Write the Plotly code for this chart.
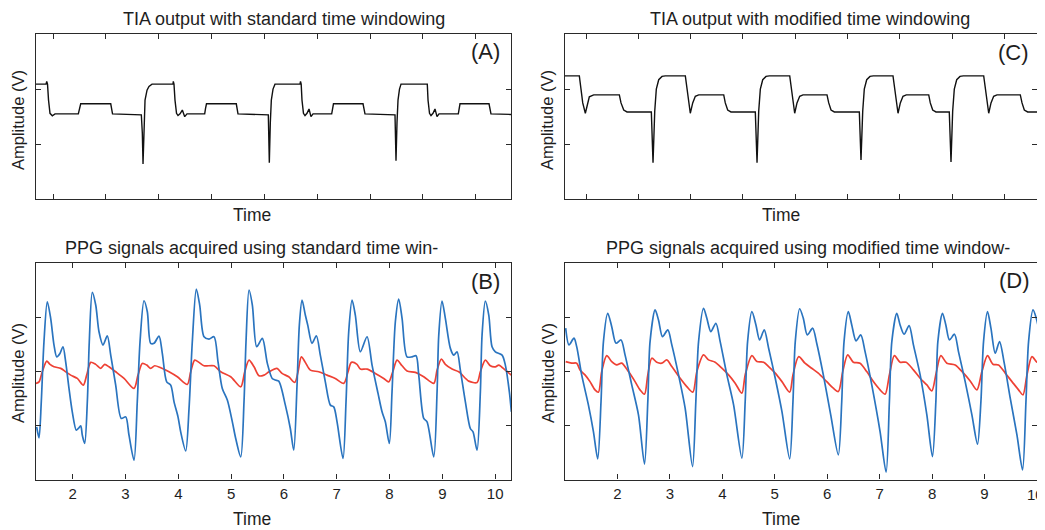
import plotly.graph_objects as go

# ---------------- data ----------------
# Panel A: TIA output, standard time windowing (time, amplitude)
A_t = [0.678, 0.868, 0.881, 0.896, 0.915, 0.943, 0.987, 1.038, 1.479, 1.501, 1.524, 2.092, 2.107, 2.126,
       2.671, 2.690, 2.703, 2.722, 2.741, 2.779, 2.816, 2.873, 3.271, 3.276, 3.289, 3.308, 3.337, 3.365,
       3.403, 3.447, 3.492, 3.535, 3.870, 3.886, 3.904, 4.468, 4.482, 4.500,
       5.074, 5.093, 5.112, 5.131, 5.163, 5.200, 5.674, 5.683, 5.696, 5.711, 5.739, 5.768, 5.806, 5.844,
       5.881, 5.920, 6.273, 6.289, 6.307, 6.866, 6.884, 6.903,
       7.471, 7.490, 7.509, 7.528, 7.556, 7.585, 8.082, 8.096, 8.124, 8.152, 8.190, 8.228, 8.266, 8.304,
       8.669, 8.682, 8.701, 9.250, 9.268, 9.287, 9.666]
A_v = [2.09, 2.09, 2.14, 2.09, 1.80, 1.56, 1.515, 1.55, 1.55, 1.65, 1.733, 1.733, 1.64, 1.551,
       1.533, 1.2, 0.642, 1.4, 1.8, 1.98, 2.05, 2.09, 2.09, 2.14, 2.09, 1.8, 1.56, 1.52,
       1.55, 1.62, 1.5, 1.55, 1.55, 1.65, 1.733, 1.733, 1.64, 1.551,
       1.533, 0.665, 1.4, 1.8, 2.0, 2.09, 2.09, 2.14, 2.09, 1.8, 1.56, 1.52, 1.56, 1.64,
       1.5, 1.55, 1.55, 1.65, 1.733, 1.733, 1.64, 1.551,
       1.533, 0.702, 1.4, 1.8, 2.0, 2.09, 2.09, 1.8, 1.56, 1.52, 1.56, 1.64, 1.5, 1.55,
       1.55, 1.65, 1.733, 1.733, 1.64, 1.551, 1.54]

# Panel C: TIA output, modified time windowing
C_t = [0.598, 0.872, 0.904, 0.937, 0.987, 1.019, 1.063, 1.147, 1.637, 1.669, 1.721, 1.784,
       2.249, 2.281, 2.314, 2.344, 2.390, 2.453, 2.516, 2.899, 2.931, 2.964, 2.994, 3.040, 3.090, 3.155,
       3.633, 3.663, 3.709, 3.772,
       4.237, 4.270, 4.302, 4.333, 4.379, 4.442, 4.505, 4.895, 4.925, 4.958, 4.990, 5.034, 5.086, 5.149,
       5.608, 5.641, 5.685, 5.748,
       6.226, 6.258, 6.291, 6.321, 6.367, 6.430, 6.493, 6.870, 6.902, 6.933, 6.966, 7.010, 7.061, 7.124,
       7.553, 7.583, 7.629, 7.692,
       7.946, 7.979, 8.011, 8.042, 8.088, 8.151, 8.214, 8.604, 8.635, 8.667, 8.700, 8.744, 8.795, 8.858,
       9.304, 9.337, 9.381, 9.445, 9.633]
C_v = [2.24, 2.24, 2.0, 1.75, 1.562, 1.7, 1.86, 1.895, 1.895, 1.75, 1.62, 1.585,
       1.585, 0.664, 1.6, 2.0, 2.17, 2.23, 2.24, 2.24, 2.0, 1.75, 1.562, 1.75, 1.87, 1.895,
       1.895, 1.75, 1.62, 1.585,
       1.585, 0.664, 1.6, 2.0, 2.17, 2.23, 2.24, 2.24, 2.0, 1.75, 1.562, 1.75, 1.87, 1.895,
       1.895, 1.75, 1.62, 1.585,
       1.585, 0.713, 1.6, 2.0, 2.17, 2.23, 2.24, 2.24, 2.0, 1.75, 1.562, 1.75, 1.87, 1.895,
       1.895, 1.75, 1.62, 1.585,
       1.585, 0.676, 1.6, 2.0, 2.17, 2.23, 2.24, 2.24, 2.0, 1.75, 1.562, 1.75, 1.87, 1.895,
       1.895, 1.75, 1.62, 1.585, 1.585]

# Panel B: PPG, standard time windowing
B_blue_t = [1.318, 1.362, 1.405, 1.456, 1.519, 1.583, 1.646, 1.697, 1.759, 1.816, 1.867, 1.930, 1.992, 2.068, 2.106, 2.152, 2.182, 2.227,
            2.277, 2.314, 2.371, 2.436, 2.498, 2.574, 2.655, 2.720, 2.814, 2.920, 3.004, 3.066, 3.161,
            3.223, 3.275, 3.350, 3.413, 3.477, 3.540, 3.634, 3.697, 3.780, 3.856, 3.919, 3.994, 4.045, 4.140,
            4.203, 4.265, 4.341, 4.405, 4.487, 4.581, 4.676, 4.752, 4.833, 4.928, 5.023, 5.087, 5.182,
            5.244, 5.282, 5.339, 5.402, 5.485, 5.591, 5.686, 5.778, 5.837, 5.902, 6.027, 6.121, 6.186,
            6.248, 6.292, 6.343, 6.405, 6.451, 6.532, 6.614, 6.689, 6.784, 6.879, 6.943, 7.006, 7.119,
            7.176, 7.227, 7.290, 7.352, 7.447, 7.574, 7.669, 7.782, 7.858, 7.920, 7.996,
            8.047, 8.110, 8.174, 8.237, 8.331, 8.426, 8.502, 8.553, 8.648, 8.710, 8.837,
            8.900, 8.932, 8.994, 9.057, 9.152, 9.216, 9.278, 9.341, 9.436, 9.530, 9.581, 9.657,
            9.720, 9.752, 9.814, 9.879, 9.941, 10.004, 10.131, 10.193, 10.269, 10.307]
B_blue_v = [0.974, 0.770, 1.437, 2.548, 3.289, 2.981, 2.487, 2.270, 2.333, 2.456, 2.178, 1.685, 1.252, 0.913, 0.944, 0.993, 0.820, 0.667,
            1.437, 2.548, 3.463, 3.228, 2.733, 2.487, 2.659, 2.302, 1.746, 1.130, 1.159, 0.820, 0.357,
            1.437, 2.548, 3.307, 3.104, 2.519, 2.519, 2.654, 2.333, 1.807, 1.746, 1.437, 1.159, 0.881, 0.530,
            1.315, 2.548, 3.524, 3.228, 2.641, 2.598, 2.641, 2.178, 1.685, 1.469, 1.067, 0.759, 0.419,
            1.437, 2.548, 3.506, 3.228, 2.456, 2.611, 2.148, 1.870, 1.840, 1.820, 1.376, 0.944, 0.543,
            1.746, 2.857, 3.320, 3.043, 2.857, 2.519, 2.659, 2.302, 1.807, 1.376, 1.344, 1.067, 0.389,
            1.437, 2.733, 3.320, 3.043, 2.363, 2.641, 2.117, 1.593, 1.252, 1.067, 0.667,
            1.622, 2.919, 3.339, 2.981, 2.270, 2.270, 2.289, 1.931, 1.130, 1.067, 0.419,
            1.622, 2.672, 3.302, 2.981, 2.426, 2.302, 2.363, 2.024, 1.437, 0.944, 0.881, 0.543,
            1.622, 2.672, 3.302, 3.043, 2.456, 2.363, 2.302, 2.117, 1.622, 1.252]
B_red_t = [1.305, 1.362, 1.424, 1.508, 1.570, 1.646, 1.773, 1.867, 1.962, 2.087, 2.201,
           2.265, 2.341, 2.436, 2.530, 2.606, 2.688, 2.814, 2.972, 3.161,
           3.237, 3.318, 3.402, 3.477, 3.553, 3.667, 3.824, 3.981, 4.170,
           4.235, 4.311, 4.392, 4.487, 4.676, 4.803, 4.992, 5.182,
           5.258, 5.339, 5.434, 5.528, 5.623, 5.718, 5.869, 5.964, 6.091, 6.205,
           6.267, 6.330, 6.405, 6.500, 6.659, 6.816, 6.973, 7.133,
           7.214, 7.277, 7.384, 7.447, 7.574, 7.731, 7.890, 7.985,
           8.061, 8.142, 8.237, 8.331, 8.489, 8.648, 8.837,
           8.900, 8.981, 9.057, 9.184, 9.311, 9.500, 9.657,
           9.720, 9.814, 9.909, 10.004, 10.068, 10.193, 10.307]
B_red_v = [1.778, 1.807, 1.993, 2.191, 2.130, 2.085, 2.056, 1.993, 1.931, 1.870, 1.746,
           1.931, 2.167, 2.130, 2.056, 2.130, 2.085, 1.993, 1.870, 1.685,
           1.931, 2.148, 2.117, 2.056, 2.104, 2.067, 1.993, 1.900, 1.759,
           1.993, 2.209, 2.167, 2.104, 2.104, 1.993, 1.900, 1.715,
           1.993, 2.209, 2.085, 1.919, 1.931, 1.993, 2.056, 1.963, 1.900, 1.796,
           1.993, 2.270, 2.167, 2.024, 1.993, 1.931, 1.870, 1.778,
           1.993, 2.167, 2.130, 2.043, 2.043, 1.963, 1.870, 1.807,
           1.993, 2.209, 2.104, 2.006, 1.981, 1.900, 1.778,
           2.024, 2.228, 2.130, 2.043, 1.993, 1.820, 1.796,
           1.993, 2.209, 2.104, 2.085, 2.117, 2.024, 1.931]

# Panel D: PPG, modified time windowing
D_blue_t = [1.013, 1.076, 1.171, 1.223, 1.318, 1.446, 1.542, 1.624,
            1.687, 1.733, 1.815, 1.891, 1.973, 2.069, 2.145, 2.273, 2.401, 2.516,
            2.579, 2.622, 2.718, 2.783, 2.859, 2.960, 3.037, 3.165, 3.291, 3.432,
            3.495, 3.547, 3.642, 3.705, 3.781, 3.877, 3.959, 4.087, 4.215, 4.373,
            4.436, 4.482, 4.564, 4.641, 4.711, 4.799, 4.883, 5.009, 5.137, 5.284,
            5.347, 5.391, 5.475, 5.544, 5.620, 5.723, 5.800, 5.926, 6.067, 6.212,
            6.277, 6.321, 6.403, 6.468, 6.550, 6.640, 6.722, 6.850, 7.008, 7.123,
            7.186, 7.232, 7.327, 7.390, 7.466, 7.562, 7.644, 7.772, 7.900, 8.007,
            8.072, 8.110, 8.198, 8.262, 8.331, 8.427, 8.503, 8.631, 8.759, 8.866,
            8.931, 8.981, 9.057, 9.122, 9.204, 9.286, 9.376, 9.490, 9.618, 9.725,
            9.790, 9.840, 9.924, 9.987, 10.050]
D_blue_v = [2.799, 2.490, 2.614, 2.458, 1.935, 1.381, 0.887, 0.383,
            1.442, 2.551, 3.076, 2.828, 2.521, 2.582, 2.305, 1.750, 1.196, 0.285,
            1.442, 2.551, 3.137, 2.952, 2.643, 2.767, 2.490, 1.935, 1.320, 0.240,
            1.442, 2.551, 3.168, 2.983, 2.736, 2.891, 2.551, 1.935, 1.381, 0.396,
            1.442, 2.551, 3.105, 2.860, 2.582, 2.767, 2.429, 1.874, 1.257, 0.383,
            1.442, 2.551, 3.159, 2.983, 2.675, 2.799, 2.521, 1.935, 1.196, 0.457,
            1.442, 2.551, 3.105, 2.860, 2.564, 2.675, 2.366, 1.750, 0.887, 0.137,
            1.442, 2.551, 3.076, 2.860, 2.688, 2.847, 2.490, 1.935, 1.196, 0.425,
            1.442, 2.551, 3.076, 2.860, 2.582, 2.688, 2.366, 1.811, 1.196, 0.654,
            1.442, 2.551, 3.105, 2.799, 2.336, 2.551, 2.152, 1.505, 0.826, 0.179,
            1.442, 2.551, 3.137, 2.983, 2.706]
D_red_t = [1.013, 1.127, 1.223, 1.286, 1.381, 1.477, 1.572, 1.637,
           1.700, 1.796, 1.891, 1.987, 2.082, 2.210, 2.336, 2.431, 2.516,
           2.579, 2.655, 2.750, 2.846, 2.941, 3.037, 3.196, 3.323, 3.438,
           3.514, 3.642, 3.737, 3.863, 3.991, 4.119, 4.245, 4.373,
           4.436, 4.564, 4.660, 4.788, 4.883, 5.009, 5.137, 5.284,
           5.347, 5.456, 5.576, 5.704, 5.830, 5.991, 6.116, 6.212,
           6.296, 6.391, 6.498, 6.626, 6.754, 6.880, 7.008, 7.104,
           7.186, 7.281, 7.390, 7.505, 7.644, 7.772, 7.900, 7.995,
           8.077, 8.167, 8.282, 8.440, 8.599, 8.726, 8.854,
           8.950, 9.057, 9.160, 9.267, 9.395, 9.523, 9.649, 9.733,
           9.809, 9.905, 10.000, 10.063]
D_red_v = [2.181, 2.152, 2.152, 2.028, 1.935, 1.811, 1.658, 1.616,
           1.996, 2.292, 2.181, 2.120, 2.152, 1.996, 1.811, 1.658, 1.579,
           1.935, 2.244, 2.170, 2.152, 2.213, 2.089, 1.874, 1.719, 1.616,
           1.996, 2.305, 2.213, 2.170, 2.059, 1.935, 1.782, 1.597,
           1.935, 2.292, 2.181, 2.170, 2.089, 1.967, 1.811, 1.616,
           1.935, 2.274, 2.152, 2.059, 1.967, 1.811, 1.689, 1.627,
           1.996, 2.305, 2.170, 2.152, 1.996, 1.811, 1.658, 1.579,
           1.935, 2.292, 2.170, 2.170, 2.028, 1.874, 1.750, 1.640,
           1.967, 2.292, 2.152, 2.120, 1.967, 1.824, 1.658,
           1.996, 2.292, 2.133, 2.120, 1.967, 1.811, 1.658, 1.566,
           1.935, 2.274, 2.170, 2.170]

time_ticks_top = [1, 2, 3, 4, 5, 6, 7, 8, 9]
time_ticks_bottom = [2, 3, 4, 5, 6, 7, 8, 9, 10]
time_labels_bottom = ["2", "3", "4", "5", "6", "7", "8", "9", "10"]
amp_ticks_top = [1, 2]
amp_ticks_bottom = [1, 2, 3]

titles = ["TIA output with standard time windowing",
          "TIA output with modified time windowing",
          "PPG signals acquired using standard time win-",
          "PPG signals acquired using modified time window-"]
panel_tags = ["(A)", "(C)", "(B)", "(D)"]

for a, b in [(A_t, A_v), (C_t, C_v), (B_blue_t, B_blue_v), (B_red_t, B_red_v),
             (D_blue_t, D_blue_v), (D_red_t, D_red_v)]:
    assert len(a) == len(b), (len(a), len(b))

# ---------------- figure ----------------
# the page body has an 8 px margin, so the figure is placed at (8, 8)
OFF = 8
W, H = 1045 - OFF, 530 - OFF
FONT = "Liberation Sans, Arial, Helvetica, sans-serif"
TXT = "#1e1e1e"
BLUE = "#2a74bf"
RED = "#ee4134"


def fx(p):
    return (p - OFF) / W


def fy(p):
    return 1 - (p - OFF) / H


fig = go.Figure()
black = dict(color="#111111", width=1.4)
fig.add_trace(go.Scatter(x=A_t, y=A_v, mode="lines", line=black, xaxis="x", yaxis="y"))
fig.add_trace(go.Scatter(x=C_t, y=C_v, mode="lines", line=black, xaxis="x2", yaxis="y2"))
fig.add_trace(go.Scatter(x=B_red_t, y=B_red_v, mode="lines", xaxis="x3", yaxis="y3",
                         line=dict(color=RED, width=1.7, shape="spline", smoothing=0.8)))
fig.add_trace(go.Scatter(x=B_blue_t, y=B_blue_v, mode="lines", xaxis="x3", yaxis="y3",
                         line=dict(color=BLUE, width=1.7, shape="spline", smoothing=0.8)))
fig.add_trace(go.Scatter(x=D_red_t, y=D_red_v, mode="lines", xaxis="x4", yaxis="y4",
                         line=dict(color=RED, width=1.7, shape="spline", smoothing=0.8)))
fig.add_trace(go.Scatter(x=D_blue_t, y=D_blue_v, mode="lines", xaxis="x4", yaxis="y4",
                         line=dict(color=BLUE, width=1.7, shape="spline", smoothing=0.8)))

ax = dict(showgrid=False, zeroline=False, showline=True, linecolor="#2a2a2a", linewidth=1.3,
          mirror="ticks", ticks="inside", ticklen=5, tickwidth=1, tickcolor="#2a2a2a",
          tickfont=dict(family=FONT, size=15, color=TXT))

left_x = [fx(36), fx(511)]
right_x = [fx(565), fx(1037.5)]
top_y = [fy(199.3), fy(34)]
bot_y = [fy(479.5), fy(263.3)]

# panel D: the last label sits on the right edge of the page; it is written
# right-aligned so that it stays on the page
d_labels = time_labels_bottom[:-1] + [""]

fig.update_layout(
    width=W, height=H, margin=dict(l=0, r=0, t=0, b=0),
    paper_bgcolor="white", plot_bgcolor="white", showlegend=False,
    xaxis=dict(ax, domain=left_x, range=[0.678, 9.666], tickvals=time_ticks_top,
               showticklabels=False, anchor="y"),
    yaxis=dict(ax, domain=top_y, range=[0, 3], tickvals=amp_ticks_top,
               showticklabels=False, anchor="x"),
    xaxis2=dict(ax, domain=right_x, range=[0.598, 9.633], tickvals=time_ticks_top,
                showticklabels=False, anchor="y2"),
    yaxis2=dict(ax, domain=top_y, range=[0, 3], tickvals=amp_ticks_top,
                showticklabels=False, anchor="x2"),
    xaxis3=dict(ax, domain=left_x, range=[1.305, 10.30], tickvals=time_ticks_bottom,
                ticktext=time_labels_bottom, anchor="y3"),
    yaxis3=dict(ax, domain=bot_y, range=[0, 4], tickvals=amp_ticks_bottom,
                showticklabels=False, anchor="x3"),
    xaxis4=dict(ax, domain=right_x, range=[1.0, 10.01], tickvals=time_ticks_bottom,
                ticktext=d_labels, anchor="y4"),
    yaxis4=dict(ax, domain=bot_y, range=[0, 4], tickvals=amp_ticks_bottom,
                showticklabels=False, anchor="x4"),
)

ann = []


def text(x, y, s, size, angle=0, yanchor="middle", xanchor="center"):
    ann.append(dict(x=fx(x), y=fy(y), xref="paper", yref="paper", text=s, showarrow=False,
                    xanchor=xanchor, yanchor=yanchor, textangle=angle, borderpad=0,
                    font=dict(family=FONT, size=size, color=TXT)))


# titles
text(284, 19, titles[0], 18)
text(810, 19, titles[1], 18)
text(251, 248, titles[2], 18)
text(808, 248, titles[3], 18)
# panel tags
text(485, 51, panel_tags[0], 22)
text(1013, 52, panel_tags[1], 22)
text(485, 281, panel_tags[2], 22)
text(1014, 280, panel_tags[3], 22)
# last tick label of panel D
text(1044.5, 494, time_labels_bottom[-1], 15, xanchor="right")
# axis titles
for (x, y) in [(252, 215), (781, 215)]:
    text(x, y, "Time", 17.5)
for x in [252, 781]:
    text(x, 530, "Time", 17.5, yanchor="bottom")
for (x, y) in [(18, 120), (547, 120), (18, 373), (548, 373)]:
    text(x, y, "Amplitude (V)", 16.5, angle=-90)

fig.update_layout(annotations=ann)
fig.write_html("out.html")
